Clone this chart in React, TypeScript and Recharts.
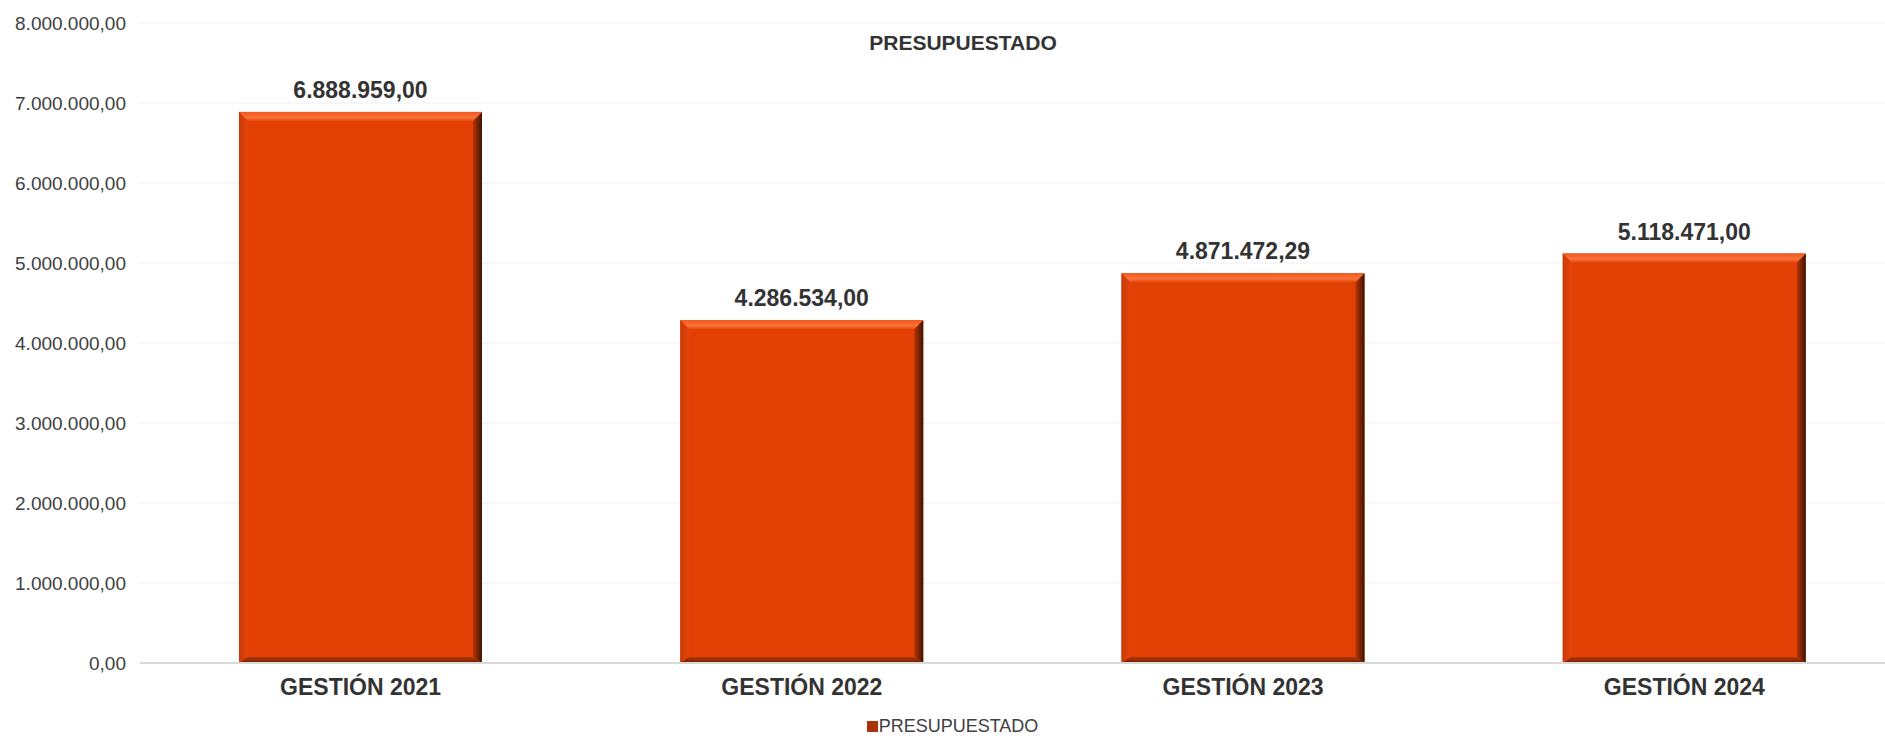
import { BarChart, Bar, XAxis, YAxis, CartesianGrid, Legend, LabelList } from "recharts";

const CATEGORIES = ["GESTIÓN 2021", "GESTIÓN 2022", "GESTIÓN 2023", "GESTIÓN 2024"];
const PRESUPUESTADO = [6888959.0, 4286534.0, 4871472.29, 5118471.0];
const Y_TICKS = [0, 1000000, 2000000, 3000000, 4000000, 5000000, 6000000, 7000000, 8000000];

const FONT = "'Liberation Sans', Arial, sans-serif";
const BAR_COLOR = "#E24004";

const data = CATEGORIES.map((name, i) => ({ name, value: PRESUPUESTADO[i] }));

// es-BO style: 1.234.567,89
function fmt(v: number) {
  const [int, dec] = v.toFixed(2).split(".");
  return int.replace(/\B(?=(\d{3})+(?!\d))/g, ".") + "," + dec;
}

function BevelBar(props: any) {
  const { x, y, width: w, height: h, index } = props;
  if (!h || h <= 0) return null;
  const b = 9;
  const bb = 6;
  const id = `bv${index}`;
  return (
    <g>
      <defs>
        <linearGradient id={`${id}r`} x1="0" y1="0" x2="1" y2="0">
          <stop offset="0%" stopColor="#B83405" />
          <stop offset="100%" stopColor="#3E1404" />
        </linearGradient>
        <linearGradient id={`${id}t`} x1="0" y1="0" x2="0" y2="1">
          <stop offset="0%" stopColor="#F2561C" />
          <stop offset="60%" stopColor="#F7733A" />
          <stop offset="100%" stopColor="#E84A0E" />
        </linearGradient>
        <linearGradient id={`${id}l`} x1="0" y1="0" x2="1" y2="0">
          <stop offset="0%" stopColor="#C83A06" />
          <stop offset="100%" stopColor="#E6450A" />
        </linearGradient>
        <linearGradient id={`${id}b`} x1="0" y1="0" x2="0" y2="1">
          <stop offset="0%" stopColor="#B33605" />
          <stop offset="100%" stopColor="#6E2204" />
        </linearGradient>
      </defs>
      <rect x={x} y={y} width={w} height={h} fill={BAR_COLOR} />
      <polygon
        points={`${x},${y + h} ${x + b},${y + h - bb} ${x + b},${y + b} ${x},${y}`}
        fill={`url(#${id}l)`}
      />
      <polygon
        points={`${x + w},${y} ${x + w},${y + h} ${x + w - b},${y + h - bb} ${x + w - b},${y + b}`}
        fill={`url(#${id}r)`}
      />
      <polygon
        points={`${x},${y + h} ${x + w},${y + h} ${x + w - b},${y + h - bb} ${x + b},${y + h - bb}`}
        fill={`url(#${id}b)`}
      />
      <polygon
        points={`${x},${y} ${x + w},${y} ${x + w - b},${y + b} ${x + b},${y + b}`}
        fill={`url(#${id}t)`}
      />
    </g>
  );
}

function LegendContent() {
  return (
    <div style={{ display: "flex", alignItems: "center", justifyContent: "center", height: 33, paddingTop: 14, boxSizing: "border-box", fontFamily: FONT, fontSize: 18, color: "#404040" }}>
      <span style={{ display: "inline-block", width: 11, height: 11, background: "#A8320E", marginRight: 1 }} />
      <span>PRESUPUESTADO</span>
    </div>
  );
}

export default function App() {
  return (
    <div style={{ position: "absolute", left: 0, top: 0, width: 1885, height: 736, overflow: "hidden", background: "#fff" }}>
      <div
        style={{
          position: "absolute",
          left: 0,
          width: 1926,
          top: 31,
          textAlign: "center",
          fontFamily: FONT,
          fontWeight: "bold",
          fontSize: 21,
          color: "#333",
        }}
      >
        PRESUPUESTADO
      </div>
      <BarChart
        width={1905}
        height={736}
        data={data}
        margin={{ top: 23, right: 0, left: 0, bottom: 0 }}
        barCategoryGap="22.5%"
      >
        <CartesianGrid vertical={false} stroke="#f0f0f0" />
        <XAxis
          dataKey="name"
          height={40}
          axisLine={{ stroke: "#d9d9d9", strokeWidth: 2 }}
          tickLine={false}
          tickSize={0}
          tickMargin={16}
          tick={{ fill: "#333", fontSize: 23, fontWeight: "bold", fontFamily: FONT }}
        />
        <YAxis
          width={140}
          domain={[0, 8000000]}
          ticks={Y_TICKS}
          axisLine={false}
          tickLine={false}
          tickSize={0}
          tickMargin={14}
          tickFormatter={fmt}
          tick={{ fill: "#404040", fontSize: 19, fontFamily: FONT }}
        />
        <Legend verticalAlign="bottom" height={33} content={<LegendContent />} />
        <Bar dataKey="value" name="PRESUPUESTADO" barSize={243} shape={<BevelBar />} isAnimationActive={false}>
          <LabelList
            dataKey="value"
            position="top"
            offset={14}
            formatter={(v: any) => fmt(Number(v))}
            style={{ fill: "#333", fontSize: 23, fontWeight: "bold", fontFamily: FONT }}
          />
        </Bar>
      </BarChart>
    </div>
  );
}
